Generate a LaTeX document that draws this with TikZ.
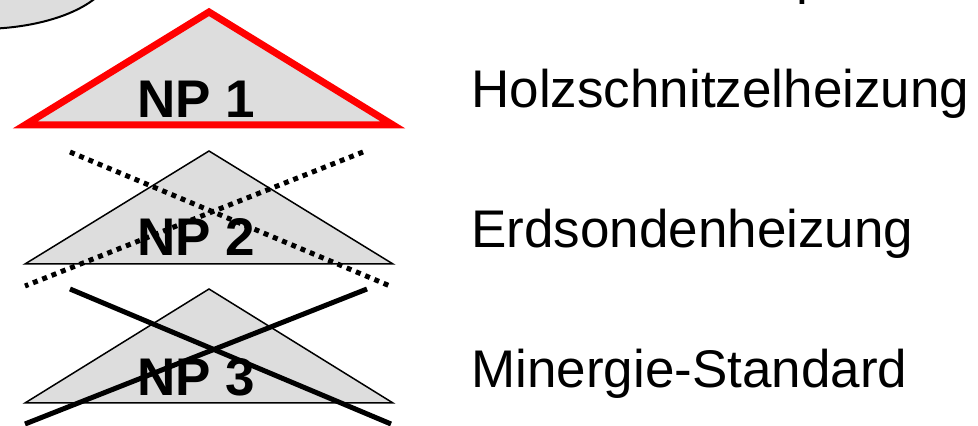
\documentclass[tikz,border=0pt]{standalone}
\usepackage{fontspec}
\setmainfont{Liberation Sans}
\definecolor{npgray}{HTML}{DDDDDD}
\begin{document}
\begin{tikzpicture}[x=0.5pt, y=-0.5pt,
  tri/.style={fill=npgray, draw=black, line width=0.75pt, line join=miter},
  np/.style={font=\fontsize{26.5}{30}\selectfont\bfseries, inner sep=0pt, anchor=base},
  lbl/.style={font=\fontsize{26.5}{30}\selectfont, inner sep=0pt, anchor=base west},
  cross/.style={line width=2.5pt},
  dotcross/.style={line width=2.5pt, dash pattern=on 2.5pt off 2.5pt}]
  \useasboundingbox (0,0) rectangle (978,426);
  \draw[fill=npgray, line width=1pt] (-20,-31) ellipse [x radius=132, y radius=60];
  % the three packages
  \draw[tri, draw=red, line width=3.5pt] (25,125) -- (209,12) -- (393,125) -- cycle;
  \draw[tri] (25,264) -- (209,151) -- (393,264) -- cycle;
  \draw[tri] (25,403) -- (209,289) -- (393,403) -- cycle;
  \node[np] (np1) at (196,118) {NP 1};
  \node[np] (np2) at (196,256) {NP 2};
  \node[np] (np3) at (196,395) {NP 3};
  \node[lbl] (holz) at (471,108) {Holzschnitzelheizung};
  \node[lbl] (erd) at (471,248) {Erdsondenheizung};
  \node[lbl] (mine) at (471,387) {Minergie-Standard};
  \node[lbl] (cut) at (796,-6) {p};
  % struck out
  \draw[dotcross] (70,152) -- (390,286);
  \draw[dotcross] (363,152) -- (25,286);
  \draw[cross] (70,289) -- (391,424);
  \draw[cross] (367,289) -- (25,424);
\end{tikzpicture}
\end{document}
